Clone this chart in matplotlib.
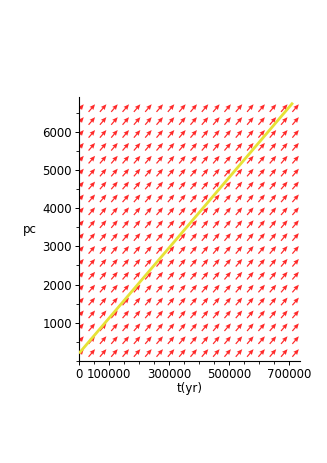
import numpy as np
import matplotlib
matplotlib.use("Agg")
import matplotlib.pyplot as plt

# direction field: dpc/dt is constant
slope = 0.0092          # pc per yr
t_grid = np.linspace(5000, 722000, 20)
pc_grid = np.linspace(210, 6620, 20)

# solution curve
t_line = [0, 713000]
pc_line = [200, 6760]

x_ticks = [0, 100000, 300000, 500000, 700000]
y_ticks = [1000, 2000, 3000, 4000, 5000, 6000]

fig = plt.figure(figsize=(3.27, 4.63), dpi=100)
ax = fig.add_axes([79 / 327, 1 - 361 / 463, 221 / 327, 264 / 463])

T, P = np.meshgrid(t_grid, pc_grid)
U = np.ones_like(T)
V = slope * np.ones_like(T)
ax.quiver(T, P, U, V, angles="xy", scale_units="inches", scale=10.0,
          color="#ff2a2a", width=0.0055, headwidth=4.0, headlength=4.6,
          headaxislength=4.2, pivot="middle", zorder=2)

ax.plot(t_line, pc_line, color="#e6e236", lw=2.0, zorder=3, solid_capstyle="butt")

ax.set_xlim(0, 736667)
ax.set_ylim(0, 6910)

for s in ["top", "right"]:
    ax.spines[s].set_visible(False)
ax.spines["left"].set_linewidth(0.8)
ax.spines["bottom"].set_linewidth(0.8)

ax.set_xticks(x_ticks)
ax.set_xticklabels([str(v) for v in x_ticks])
ax.set_xticks(np.arange(0, 736667, 50000), minor=True)
ax.set_yticks(y_ticks)
ax.set_yticklabels([str(v) for v in y_ticks])
ax.set_yticks(np.arange(0, 6910, 500), minor=True)
ax.tick_params(which="major", length=3, width=0.7, labelsize=8.5, pad=2)
ax.tick_params(which="minor", length=2, width=0.6)

ax.set_xlabel("t(yr)", fontsize=8.5, va="center")
ax.xaxis.set_label_coords(0.5, -0.106)
ax.set_ylabel("pc", fontsize=8.5, rotation=0, ha="right", va="center")
ax.yaxis.set_label_coords(-0.19, 0.5)

fig.savefig("out.png", dpi=100)
